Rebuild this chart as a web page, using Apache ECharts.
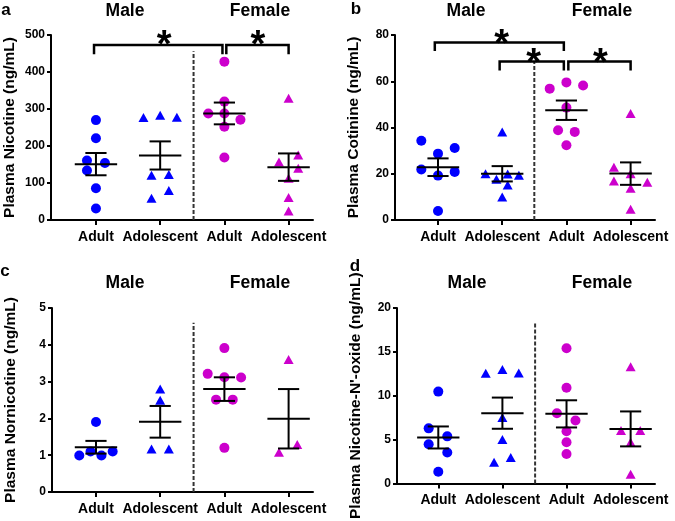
<!DOCTYPE html>
<html><head><meta charset="utf-8">
<script src="https://cdn.jsdelivr.net/npm/echarts@6/dist/echarts.min.js"></script>
<style>html,body{margin:0;padding:0;background:#fff}#c{width:675px;height:521px}</style>
</head><body><div id="c"></div>
<script>
// ---------------- DATA ----------------
const categories = ['Adult', 'Adolescent', 'Adult', 'Adolescent'];
const sexLabels = ['Male', 'Female'];
const panelLetters = ['a', 'b', 'c', 'd'];
const axisTitles = ['Plasma Nicotine (ng/mL)', 'Plasma Cotinine (ng/mL)', 'Plasma Nornicotine (ng/mL)', "Plasma Nicotine-N'-oxide (ng/mL)"];

// tick labels (y)
const nicotineTicks = [0, 100, 200, 300, 400, 500];
const cotinineTicks = [0, 20, 40, 60, 80];
const nornicotineTicks = [0, 1, 2, 3, 4, 5];
const noxideTicks = [0, 5, 10, 15, 20];

// a: Plasma Nicotine (values) and horizontal jitter (category units)
const nicMaleAdult = [270, 221, 161, 154, 134, 86, 31];
const nicMaleAdultJit = [0, 0, -0.14, 0.14, -0.14, 0, 0];
const nicMaleAdol = [277, 283, 278, 121, 123, 80, 59];
const nicMaleAdolJit = [-0.26, 0, 0.26, -0.135, 0.135, 0.135, -0.135];
const nicFemAdult = [428, 320, 288, 288, 271, 252, 169];
const nicFemAdultJit = [0, 0, -0.25, 0, 0.25, 0, 0];
const nicFemAdol = [329, 176, 157, 140, 113, 61, 24];
const nicFemAdolJit = [0, 0.15, -0.15, 0.15, 0, 0, 0];

// b: Plasma Cotinine
const cotMaleAdult = [34.3, 28.7, 31.1, 21.8, 20.8, 19.2, 3.9];
const cotMaleAdultJit = [-0.26, 0, 0.26, -0.26, 0.26, 0, 0];
const cotMaleAdol = [38.1, 20.0, 17.6, 19.9, 19.3, 15.1, 9.9];
const cotMaleAdolJit = [0, -0.26, -0.09, 0.085, 0.26, 0.085, 0];
const cotFemAdult = [59.5, 56.8, 58.2, 48.6, 38.8, 38.1, 32.3];
const cotFemAdultJit = [0, -0.26, 0.26, 0, -0.13, 0.13, 0];
const cotFemAdol = [46.1, 22.8, 20.0, 16.9, 16.3, 13.7, 4.6];
const cotFemAdolJit = [0, -0.26, 0, -0.26, 0.26, 0, 0];

// c: Plasma Nornicotine
const norMaleAdult = [1.90, 0.99, 1.10, 0.99, 1.10];
const norMaleAdultJit = [0, -0.26, -0.085, 0.085, 0.26];
const norMaleAdol = [2.80, 2.49, 1.17, 1.17];
const norMaleAdolJit = [0, 0, -0.135, 0.135];
const norFemAdult = [3.91, 3.21, 3.12, 3.11, 2.51, 2.51, 1.20];
const norFemAdultJit = [0, -0.26, 0, 0.26, -0.13, 0.13, 0];
const norFemAdol = [3.60, 1.08, 1.29];
const norFemAdolJit = [0, -0.15, 0.135];

// d: Plasma Nicotine-N'-oxide
const noxMaleAdult = [10.47, 6.28, 5.37, 4.47, 3.53, 1.33];
const noxMaleAdultJit = [0, -0.15, 0.14, -0.15, 0.14, 0];
const noxMaleAdol = [12.57, 13.0, 12.6, 7.51, 5.02, 2.42, 2.96];
const noxMaleAdolJit = [-0.26, 0, 0.255, 0, 0, -0.13, 0.13];
const noxFemAdult = [15.42, 10.9, 8.01, 7.18, 5.96, 4.69, 3.36];
const noxFemAdultJit = [0, 0, -0.15, 0.14, 0, 0, 0];
const noxFemAdol = [13.3, 6.03, 6.03, 4.69, 1.04];
const noxFemAdolJit = [0, -0.15, 0.15, 0, 0];

// significance brackets: [fromX, toX, height, dropTo]
const nicBrackets = [[0.97, 2.97, 473, 448], [3.03, 4.0, 473, 448]];
const nicStars = [[2.06, 492], [3.52, 492]];
const cotBrackets = [[0.95, 2.96, 76.8, 73.1], [1.96, 2.96, 68.5, 64.6], [3.03, 4.0, 68.5, 64.6]];
const cotStars = [[1.99, 79.3], [2.49, 71.2], [3.53, 71.2]];
const norBrackets = [];
const norStars = [];
const noxBrackets = [];
const noxStars = [];

// sex divider (x position, top value)
const nicDivider = [2.52, 456];
const cotDivider = [2.5, 68.5];
const norDivider = [2.52, 4.6];
const noxDivider = [2.51, 18.3];

// ---------------- BUILD ----------------
const FONT = '"Liberation Sans", Arial, Helvetica, sans-serif';
const BLUE = '#0000ff', MAGENTA = '#cc00cc';

const panels = [
  { ticks: nicotineTicks, groups: [[nicMaleAdult, nicMaleAdultJit], [nicMaleAdol, nicMaleAdolJit], [nicFemAdult, nicFemAdultJit], [nicFemAdol, nicFemAdolJit]], brackets: nicBrackets, stars: nicStars, divider: nicDivider },
  { ticks: cotinineTicks, groups: [[cotMaleAdult, cotMaleAdultJit], [cotMaleAdol, cotMaleAdolJit], [cotFemAdult, cotFemAdultJit], [cotFemAdol, cotFemAdolJit]], brackets: cotBrackets, stars: cotStars, divider: cotDivider },
  { ticks: nornicotineTicks, groups: [[norMaleAdult, norMaleAdultJit], [norMaleAdol, norMaleAdolJit], [norFemAdult, norFemAdultJit], [norFemAdol, norFemAdolJit]], brackets: norBrackets, stars: norStars, divider: norDivider },
  { ticks: noxideTicks, groups: [[noxMaleAdult, noxMaleAdultJit], [noxMaleAdol, noxMaleAdolJit], [noxFemAdult, noxFemAdultJit], [noxFemAdol, noxFemAdolJit]], brackets: noxBrackets, stars: noxStars, divider: noxDivider }
];

const layouts = [
  { left: 51, top: 35, width: 262, height: 185, xMin: 0.30, xMax: 4.38 },
  { left: 395, top: 35, width: 260, height: 185, xMin: 0.33, xMax: 4.38 },
  { left: 52, top: 308, width: 261, height: 184, xMin: 0.315, xMax: 4.38 },
  { left: 397, top: 308, width: 258, height: 184, xMin: 0.356, xMax: 4.38 }
];

const textPos = [
  { letter: [6, 10], male: [125, 11], female: [260, 11] },
  { letter: [356, 9], male: [466, 11], female: [602, 11] },
  { letter: [5, 271], male: [125, 283], female: [260, 283] },
  { letter: [355, 266], male: [467, 283], female: [602, 283] }
];

function meanSem(arr) {
  const n = arr.length;
  const m = arr.reduce((a, b) => a + b, 0) / n;
  const sd = Math.sqrt(arr.reduce((a, b) => a + (b - m) * (b - m), 0) / (n - 1));
  return [m, sd / Math.sqrt(n)];
}

const grid = [], xAxis = [], yAxis = [], series = [], graphic = [];

panels.forEach((p, i) => {
  const L = layouts[i];
  grid.push({ left: L.left, top: L.top, width: L.width, height: L.height });
  xAxis.push({
    gridIndex: i, type: 'value', min: L.xMin, max: L.xMax,
    axisLine: { show: true, onZero: false, lineStyle: { color: '#000', width: 2 } },
    axisTick: { show: true, customValues: [1, 2, 3, 4], length: 5, lineStyle: { color: '#000', width: 2 } },
    axisLabel: { show: true, customValues: [1, 2, 3, 4], formatter: v => categories[Math.round(v) - 1] || '',
      fontSize: 14, fontWeight: 'bold', color: '#000', fontFamily: FONT, margin: 10 },
    splitLine: { show: false }
  });
  const tk = p.ticks;
  yAxis.push({
    gridIndex: i, type: 'value', min: tk[0], max: tk[tk.length - 1], interval: tk[1] - tk[0],
    axisLine: { show: true, onZero: false, lineStyle: { color: '#000', width: 2 } },
    axisTick: { show: true, length: 4, lineStyle: { color: '#000', width: 2 } },
    axisLabel: { fontSize: 12, fontWeight: 'bold', color: '#000', fontFamily: FONT, margin: 6 },
    splitLine: { show: false },
    name: axisTitles[i], nameLocation: 'middle', nameGap: 33,
    nameTextStyle: { fontSize: 15.5, fontWeight: 'bold', color: '#000', fontFamily: FONT }
  });

  // dots
  p.groups.forEach((g, gi) => {
    const [vals, jit] = g;
    const isAdol = gi % 2 === 1;
    series.push({
      type: 'scatter', xAxisIndex: i, yAxisIndex: i,
      symbol: isAdol ? 'triangle' : 'circle',
      symbolSize: isAdol ? [10, 9] : 10,
      itemStyle: { color: gi < 2 ? BLUE : MAGENTA, opacity: 1 },
      data: vals.map((v, k) => [gi + 1 + jit[k], v]),
      z: 2, silent: true
    });
  });

  // mean ± SEM
  series.push({
    type: 'custom', xAxisIndex: i, yAxisIndex: i, z: 5, silent: true,
    encode: { x: 0, y: [1, 2, 3] },
    data: p.groups.map((g, gi) => { const [m, s] = meanSem(g[0]); return [gi + 1, m, m - s, m + s]; }),
    renderItem: (params, api) => {
      const x = api.value(0), m = api.value(1), lo = api.value(2), hi = api.value(3);
      const pm = api.coord([x, m]), pl = api.coord([x, lo]), ph = api.coord([x, hi]);
      const unit = api.size([1, 0])[0];
      const mw = unit * 0.33, cw = unit * 0.165;
      const st = { stroke: '#000', lineWidth: 2 };
      return { type: 'group', children: [
        { type: 'line', shape: { x1: pm[0] - mw, y1: pm[1], x2: pm[0] + mw, y2: pm[1] }, style: st },
        { type: 'line', shape: { x1: pm[0], y1: pl[1], x2: pm[0], y2: ph[1] }, style: st },
        { type: 'line', shape: { x1: pm[0] - cw, y1: pl[1], x2: pm[0] + cw, y2: pl[1] }, style: st },
        { type: 'line', shape: { x1: pm[0] - cw, y1: ph[1], x2: pm[0] + cw, y2: ph[1] }, style: st }
      ] };
    }
  });

  // divider
  series.push({
    type: 'line', xAxisIndex: i, yAxisIndex: i, symbol: 'none', silent: true, z: 1,
    data: [[p.divider[0], 0], [p.divider[0], p.divider[1]]],
    lineStyle: { color: '#333', width: 2, type: [4, 2] }
  });

  // brackets
  p.brackets.forEach(b => {
    series.push({
      type: 'line', xAxisIndex: i, yAxisIndex: i, symbol: 'none', silent: true, z: 6,
      data: [[b[0], b[3]], [b[0], b[2]], [b[1], b[2]], [b[1], b[3]]],
      lineStyle: { color: '#000', width: 2.5, cap: 'butt', join: 'miter' }
    });
  });
  if (p.stars.length) {
    series.push({
      type: 'custom', xAxisIndex: i, yAxisIndex: i, silent: true, z: 7,
      encode: { x: 0, y: 1 },
      data: p.stars,
      renderItem: (params, api) => {
        const pt = api.coord([api.value(0), api.value(1)]);
        return { type: 'text', x: pt[0], y: pt[1] + 9,
          style: { text: '*', fill: '#000', opacity: 1, font: 'bold 38px ' + FONT, align: 'center', verticalAlign: 'middle' } };
      }
    });
  }

  const T = textPos[i];
  graphic.push({ type: 'text', x: T.letter[0], y: T.letter[1], style: { text: panelLetters[i], font: 'bold 17px ' + FONT, fill: '#000', textAlign: 'center', textVerticalAlign: 'middle' } });
  graphic.push({ type: 'text', x: T.male[0], y: T.male[1], style: { text: sexLabels[0], font: 'bold 17.5px ' + FONT, fill: '#000', textAlign: 'center', textVerticalAlign: 'middle' } });
  graphic.push({ type: 'text', x: T.female[0], y: T.female[1], style: { text: sexLabels[1], font: 'bold 17.5px ' + FONT, fill: '#000', textAlign: 'center', textVerticalAlign: 'middle' } });
});

const chart = echarts.init(document.getElementById('c'), null, { renderer: 'canvas' });
chart.setOption({ animation: false, backgroundColor: '#fff', grid, xAxis, yAxis, series, graphic });
</script></body></html>
